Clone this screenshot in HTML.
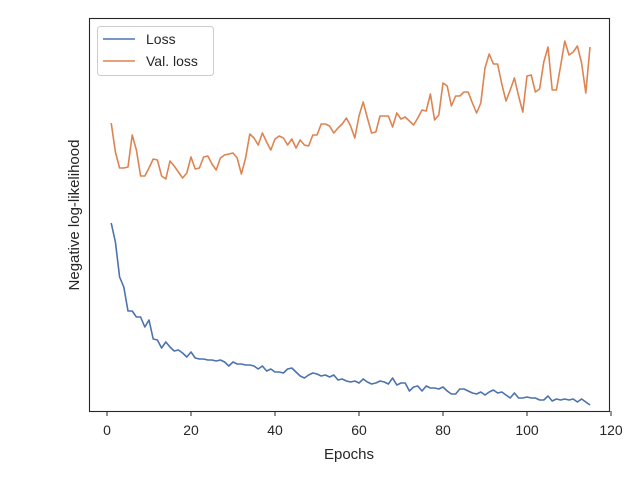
<!DOCTYPE html>
<html><head><meta charset="utf-8"><style>
html,body{margin:0;padding:0;background:#fff;}
svg{display:block;font-family:"Liberation Sans","DejaVu Sans",sans-serif;}
</style></head><body>
<svg id="chart" width="640" height="480">
<rect x="0" y="0" width="640" height="480" fill="#fff"/>
<g id="plot"></g>
<rect x="89.5" y="18.5" width="520" height="393" fill="none" stroke="#262626" stroke-width="1.1"/>
<g id="xticks"></g>
<text x="349" y="459" text-anchor="middle" font-size="15" fill="#262626">Epochs</text>
<text transform="translate(79,215) rotate(-90)" text-anchor="middle" font-size="15" fill="#262626">Negative log-likelihood</text>
<g>
<rect x="97.5" y="26.5" width="116" height="49" rx="3" fill="#fff" fill-opacity="0.8" stroke="#ccc"/>
<line x1="103" y1="39" x2="135" y2="39" stroke="#4c72b0" stroke-width="1.6"/>
<text x="146" y="44" font-size="14" fill="#262626">Loss</text>
<line x1="103" y1="61" x2="135" y2="61" stroke="#dd8452" stroke-width="1.6"/>
<text x="146" y="66" font-size="14" fill="#262626">Val. loss</text>
</g>
</svg>
<script>
const lossValues=[188,169,134,124,100,100,94,94,84,91,72,71,63,69,64,60,61,58,54,59,53,52,52,51,51,50,51,49,45,49,47,47,46,46,45,42,45,40,42,39,39,38,42,43,39,35,33,36,38,37,35,36,34,36,31,32,30,29,30,28,32,29,27,28,30,29,27,33,26,28,28,20,24,25,20,25,23,23,22,24,20,17,17,22,22,20,18,17,19,16,19,21,18,19,16,13,18,13,13,14,13,13,11,11,15,10,12,11,12,11,12,9,12,9,6];
const valLossValues=[288,259,243,243,244,276,261,235,235,243,252,251,235,232,250,245,239,233,238,254,242,243,254,255,247,241,253,256,257,258,253,237,253,277,273,266,278,269,261,272,275,273,266,272,263,271,266,265,276,276,287,287,285,278,283,287,293,285,273,295,309,293,278,279,295,295,295,284,298,292,294,290,286,293,301,300,317,291,296,328,325,305,315,315,319,319,308,298,308,343,357,347,347,327,310,321,333,315,299,335,336,319,322,349,364,321,321,345,370,356,359,365,348,318,364];
const xTickLabels=[0,20,40,60,80,100,120];
const NS="http://www.w3.org/2000/svg";
function xScale(e){return 107+e*4.2;}
function yScale(v){return 411-v*(393/393);}
const plot=document.getElementById('plot');
function drawSeries(vals,color,name){
  const p=document.createElementNS(NS,'path');
  p.setAttribute('d',vals.map((v,i)=>(i?'L':'M')+xScale(i+1).toFixed(1)+','+yScale(v).toFixed(1)).join(''));
  p.setAttribute('fill','none');p.setAttribute('stroke',color);p.setAttribute('stroke-width','1.6');
  p.setAttribute('stroke-linejoin','round');
  
  
  plot.appendChild(p);
}
drawSeries(lossValues,'#4c72b0','loss-line');
drawSeries(valLossValues,'#dd8452','val-loss-line');
const xt=document.getElementById('xticks');
xTickLabels.forEach(t=>{
  const x=xScale(t);
  const l=document.createElementNS(NS,'line');
  l.setAttribute('x1',x);l.setAttribute('x2',x);l.setAttribute('y1',411);l.setAttribute('y2',416);
  l.setAttribute('stroke','#262626');
  
  
  xt.appendChild(l);
  const tx=document.createElementNS(NS,'text');
  tx.setAttribute('x',x);tx.setAttribute('y',435);tx.setAttribute('text-anchor','middle');
  tx.setAttribute('font-size','14');tx.setAttribute('fill','#262626');
  tx.textContent=t;
  
  
  xt.appendChild(tx);
});
</script>
</body></html>
